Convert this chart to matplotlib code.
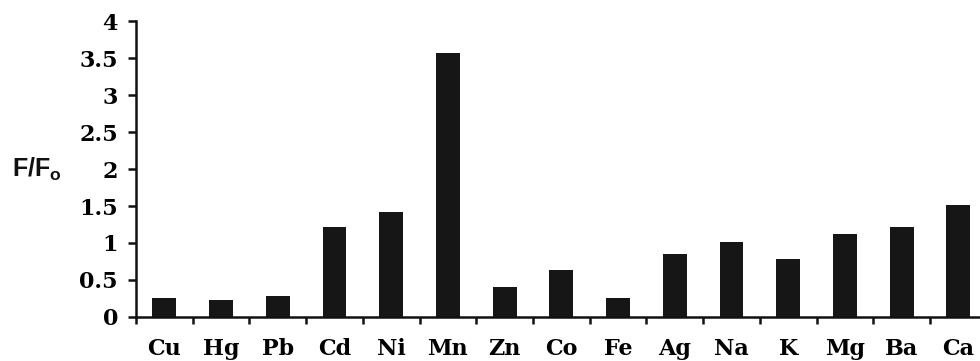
import numpy as np
import matplotlib
matplotlib.use("Agg")
import matplotlib.pyplot as plt
from matplotlib.ticker import FixedLocator

# fluorescence ratio for each metal ion
ions = ["Cu", "Hg", "Pb", "Cd", "Ni", "Mn", "Zn", "Co", "Fe",
        "Ag", "Na", "K", "Mg", "Ba", "Ca"]
ratio = [0.25, 0.23, 0.28, 1.22, 1.42, 3.57, 0.40, 0.635, 0.25,
         0.85, 1.02, 0.79, 1.12, 1.22, 1.52]
yticks = [0, 0.5, 1, 1.5, 2, 2.5, 3, 3.5, 4]
ylabels = ["0", "0.5", "1", "1.5", "2", "2.5", "3", "3.5", "4"]

fig = plt.figure(figsize=(9.8, 3.61), dpi=100)
ax = fig.add_axes([0.1388, 0.1219, 0.868, 0.8199])

x = np.arange(len(ions))
ax.bar(x, ratio, width=0.42, color="#161616")

ax.set_xlim(-0.5, len(ions) - 0.5)
ax.set_ylim(0, 4)

for s in ["top", "right"]:
    ax.spines[s].set_visible(False)
for s in ["left", "bottom"]:
    ax.spines[s].set_linewidth(1.8)
    ax.spines[s].set_color("#111111")

serif = dict(family="DejaVu Serif", weight="bold", size=16)

ax.set_yticks(yticks)
ax.set_yticklabels(ylabels, fontdict=serif)
ax.tick_params(axis="y", direction="out", length=6, width=1.8, pad=7,
               color="#111111")

# category labels at bar centres, tick marks between categories
ax.set_xticks(x)
ax.set_xticklabels(ions, fontdict=serif)
ax.tick_params(axis="x", which="major", length=0, pad=15)
ax.xaxis.set_minor_locator(FixedLocator(np.arange(len(ions) + 1) - 0.5))
ax.tick_params(axis="x", which="minor", direction="out", length=5,
               width=1.8, color="#111111")

fig.text(0.012, 0.53, r"F/F$_\mathregular{o}$", fontsize=18,
         family="Liberation Sans", weight="bold", va="center", ha="left",
         color="#111111")

fig.savefig("out.png", dpi=100)
